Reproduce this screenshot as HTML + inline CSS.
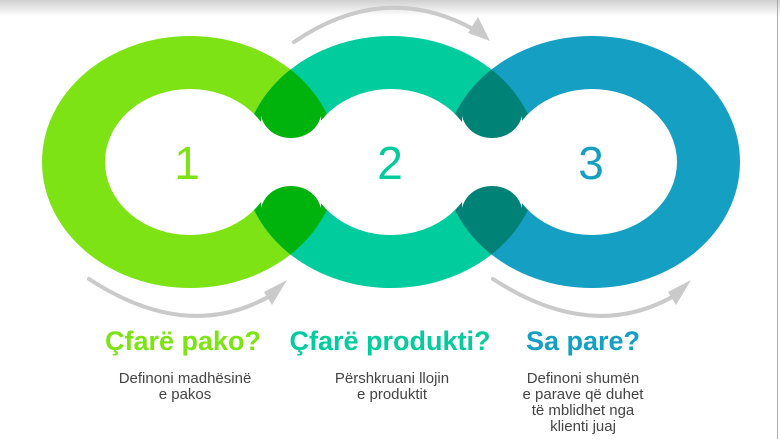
<!DOCTYPE html>
<html><head><meta charset="utf-8"><style>
html,body{margin:0;padding:0;background:#fff;}
body{width:780px;height:439px;position:relative;overflow:hidden;font-family:"Liberation Sans",Arial,sans-serif;}
.t{position:absolute;text-align:center;font-size:27px;font-weight:bold;width:260px;}
.d{position:absolute;text-align:center;font-size:15px;color:#444;line-height:16px;width:220px;}
</style></head><body>
<svg width="780" height="439" style="position:absolute;left:0;top:0">
<defs>
<linearGradient id="sh" x1="0" y1="0" x2="0" y2="1"><stop offset="0" stop-color="#d0d0d0"/><stop offset="1" stop-color="#fff"/></linearGradient>
<clipPath id="c1"><path d="M42,162 a148,126 0 1,0 296,0 a148,126 0 1,0 -296,0 Z"/></clipPath>
<clipPath id="c2"><path d="M243,162 a148,126 0 1,0 296,0 a148,126 0 1,0 -296,0 Z"/></clipPath>
</defs>
<rect x="0" y="0" width="780" height="16" fill="url(#sh)"/>
<line x1="777.5" y1="0" x2="777.5" y2="439" stroke="#aaa" stroke-width="1"/>
<ellipse cx="190" cy="162" rx="148" ry="126" fill="#7de314"/>
<ellipse cx="391" cy="162" rx="148" ry="126" fill="#00cc9d"/>
<ellipse cx="592" cy="162" rx="148" ry="126" fill="#149fc3"/>
<g clip-path="url(#c1)"><ellipse cx="391" cy="162" rx="148" ry="126" fill="#00b20c"/></g>
<g clip-path="url(#c2)"><ellipse cx="592" cy="162" rx="148" ry="126" fill="#008277"/></g>
<g fill="#fff">
<ellipse cx="190" cy="162" rx="85" ry="73"/>
<ellipse cx="391" cy="162" rx="85" ry="73"/>
<ellipse cx="592" cy="162" rx="85" ry="73"/>
<path d="M261,116 C265,131 278,138 291,138 C304,138 317,131 321,116 L321,208 C317,193 304,186 291,186 C278,186 265,193 261,208 Z"/>
<path d="M462,116 C466,131 479,138 492,138 C505,138 518,131 522,116 L522,208 C518,193 505,186 492,186 C479,186 466,193 462,208 Z"/>
</g>
<g fill="none" stroke="#cacaca" stroke-width="4" stroke-linecap="round">
<path d="M294,42 Q385,-20 475,30"/>
<path d="M89,279 Q190,345 275,293"/>
<path d="M493,279 Q594,345 679,293"/>
</g>
<g fill="#cacaca">
<polygon points="490,41 468,33 478,17"/>
<polygon points="287,280 264,292 272,305"/>
<polygon points="691,280 668,292 676,305"/>
</g>
<g font-family="Liberation Sans, Arial, sans-serif" font-size="46" text-anchor="middle">
<text x="187" y="179" fill="#7de314">1</text>
<text x="390" y="179" fill="#00cc9d">2</text>
<text x="591" y="179" fill="#149fc3">3</text>
</g>
</svg>
<div class="t" style="left:53px;top:326px;color:#7de314">Çfarë pako?</div>
<div class="t" style="left:260px;top:326px;color:#00cc9d">Çfarë produkti?</div>
<div class="t" style="left:453px;top:326px;color:#149fc3">Sa pare?</div>
<div class="d" style="left:75px;top:371px">Definoni madhësinë<br>e pakos</div>
<div class="d" style="left:282px;top:371px">Përshkruani llojin<br>e produktit</div>
<div class="d" style="left:473px;top:371px">Definoni shumën<br>e parave që duhet<br>të mblidhet nga<br>klienti juaj</div>
</body></html>
